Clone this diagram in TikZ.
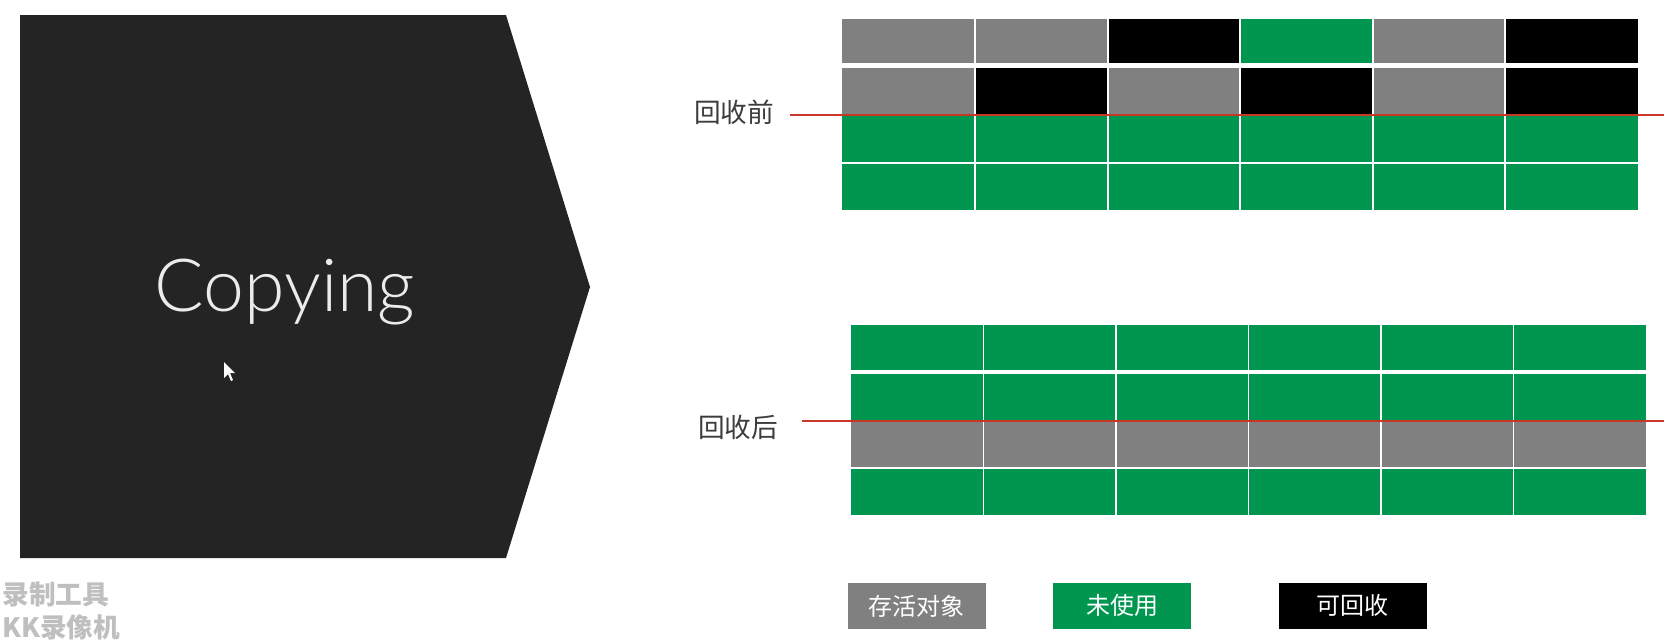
\documentclass[tikz,border=0pt]{standalone}
\usepackage{fontspec}
\newfontfamily\cjk{Noto Sans CJK SC}
\newfontfamily\thinfont{Lato Light}
\usetikzlibrary{positioning}

\definecolor{slide}{RGB}{36,36,36}
\definecolor{used}{RGB}{128,128,128}
\definecolor{free}{RGB}{0,150,80}
\definecolor{marker}{RGB}{200,55,40}
\definecolor{labeltext}{RGB}{60,60,60}

\tikzset{every picture/.style={line width=0.75pt}}
\tikzset{
  sidelabel/.style={font=\cjk\fontsize{20}{24}\selectfont, text=labeltext, inner sep=0pt},
  keybox/.style={minimum height=35pt, inner sep=0pt, text=white, font=\cjk\fontsize{18}{20}\selectfont},
  cellline/.style={white, line width=1.2pt},
  markline/.style={marker, line width=2.2pt},
  stamp/.style={font=\cjk\bfseries\fontsize{20}{22}\selectfont, text=gray!50, inner sep=0pt, anchor=west},
}

\begin{document}
\begin{tikzpicture}[x=0.75pt,y=0.75pt,yscale=-1]
\useasboundingbox (0,0) rectangle (1664,643);

%Shape: Chevron
\fill[slide] (20,15) -- (506,15) -- (590,287) -- (506,558) -- (20,558) -- cycle;
\node[font=\thinfont\fontsize{55}{60}\selectfont, text=white!92!black, anchor=base] (title) at (285,311) {Copying};
%Shape: Pointer
\fill[white] (224,362) -- (224,378) -- (228,374) -- (231,381) -- (233,380) -- (230,373) -- (235,373) -- cycle;

%Before collection, row 1
\fill[used] (842,19) rectangle (975,63);
\fill[used] (975,19) rectangle (1108,63);
\fill[black] (1108,19) rectangle (1240,63);
\fill[free] (1240,19) rectangle (1373,63);
\fill[used] (1373,19) rectangle (1505,63);
\fill[black] (1505,19) rectangle (1638,63);
%Before collection, row 2
\fill[used] (842,68) rectangle (975,115);
\fill[black] (975,68) rectangle (1108,115);
\fill[used] (1108,68) rectangle (1240,115);
\fill[black] (1240,68) rectangle (1373,115);
\fill[used] (1373,68) rectangle (1505,115);
\fill[black] (1505,68) rectangle (1638,115);
%Before collection, rows 3 and 4
\fill[free] (842,115) rectangle (1638,210);
\draw[cellline] (975,19) -- (975,210);
\draw[cellline] (1108,19) -- (1108,210);
\draw[cellline] (1240,19) -- (1240,210);
\draw[cellline] (1373,19) -- (1373,210);
\draw[cellline] (1505,19) -- (1505,210);
\draw[cellline] (842,163) -- (1638,163);

%After collection
\fill[free] (851,325) rectangle (1646,370);
\fill[free] (851,374) rectangle (1646,421);
\fill[used] (851,421) rectangle (1646,468);
\fill[free] (851,468) rectangle (1646,515);
\draw[cellline] (983.5,325) -- (983.5,515);
\draw[cellline] (1116,325) -- (1116,515);
\draw[cellline] (1248.5,325) -- (1248.5,515);
\draw[cellline] (1381,325) -- (1381,515);
\draw[cellline] (1513.5,325) -- (1513.5,515);
\draw[cellline, line width=1.6pt] (851,468) -- (1646,468);

%Labels and marker lines
\node[sidelabel] (lblBefore) at (734,112) {回收前};
\node[sidelabel] (lblAfter) at (738,427) {回收后};
\coordinate (beforeStart) at (790,115);
\coordinate (beforeEnd) at (1664,115);
\coordinate (afterStart) at (802,421);
\coordinate (afterEnd) at (1664,421);
\draw[markline] (beforeStart) -- (beforeEnd);
\draw[markline] (afterStart) -- (afterEnd);

%Legend
\node[keybox, fill=used, minimum width=104pt, anchor=north west] (keyLive) at (847,582) {存活对象};
\node[keybox, fill=free, minimum width=103.5pt, right=49.5pt of keyLive] (keyFree) {未使用};
\node[keybox, fill=black, minimum width=111pt, right=65pt of keyFree] (keyDead) {可回收};

%Recorder stamp
\node[stamp] (stampTop) at (2,595) {录制工具};
\node[stamp] (stampBottom) at (2,627) {KK录像机};

\end{tikzpicture}
\end{document}
